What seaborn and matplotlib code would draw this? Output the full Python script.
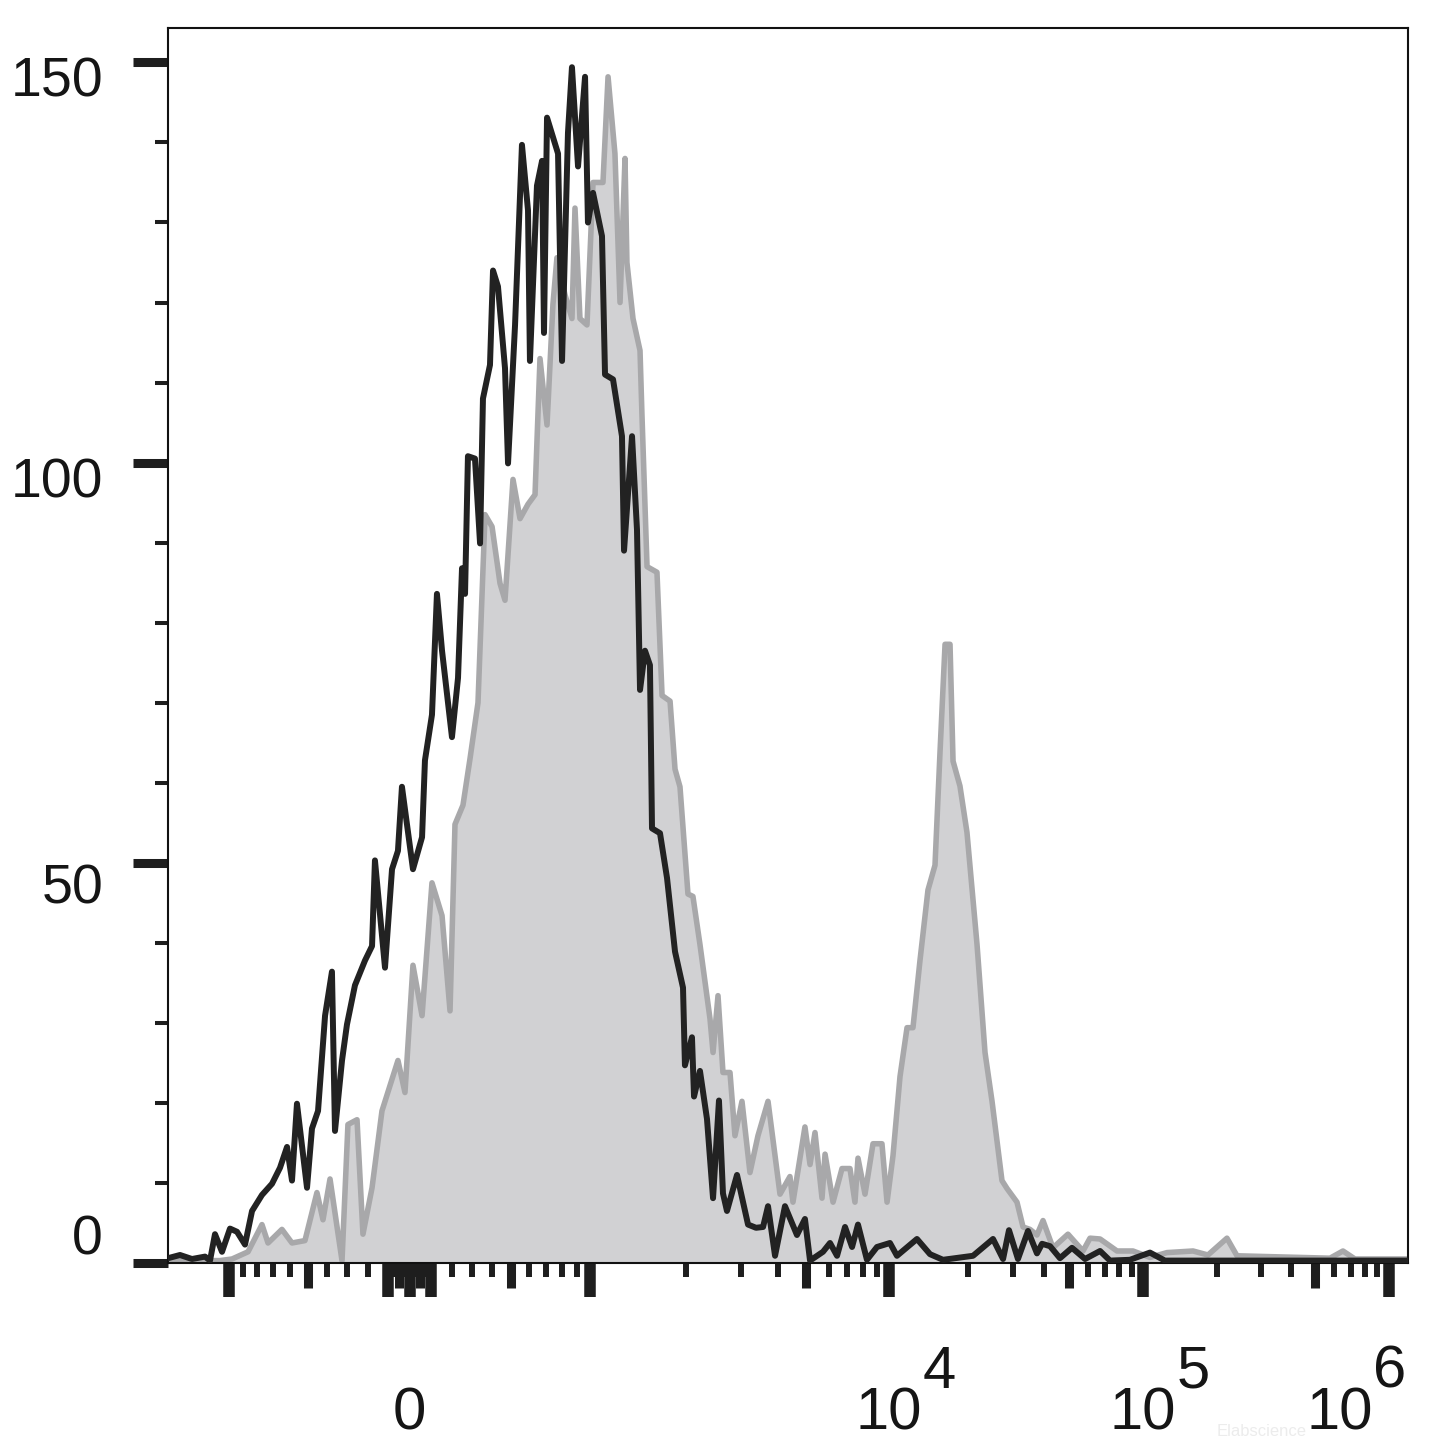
import numpy as np
import matplotlib
matplotlib.use('Agg')
import matplotlib.pyplot as plt
import matplotlib.transforms as mtransforms
import seaborn as sns

# histogram traces; x in display channels (0-1024 across the biexponential axis)
control_ch = [0, 9.9, 19.8, 30.6, 34.7, 38.8, 44.6, 51.2, 57.0, 63.6, 69.4, 77.6, 85.9, 92.5,
              98.3, 102.4, 106.5, 114.8, 118.9, 123.9, 129.7, 135.4, 137.9, 143.7, 147.8, 154.4,
              162.7, 168.5, 170.9, 179.2, 185.0, 189.9, 193.2, 202.3, 209.8, 212.2, 218.0, 222.1,
              226.3, 234.5, 239.5, 242.8, 245.3, 247.7, 253.5, 257.7, 260.1, 265.9, 268.4, 272.5,
              278.3, 280.8, 286.6, 292.3, 297.3, 298.9, 304.7, 308.9, 310.5, 313.0, 322.1, 325.4,
              330.3, 333.6, 338.6, 344.4, 346.8, 351.0, 358.4, 360.9, 367.5, 374.9, 376.6, 383.2,
              387.3, 389.8, 393.9, 398.0, 399.7, 406.3, 412.1, 418.7, 425.3, 426.9, 432.7, 434.4,
              439.3, 445.1, 450.1, 455.0, 458.3, 461.6, 469.9, 479.0, 485.6, 491.4, 495.5, 501.3,
              509.5, 519.4, 526.0, 530.2, 540.9, 546.7, 552.5, 559.1, 564.9, 569.8, 577.2, 585.5,
              596.2, 602.0, 618.5, 629.3, 640.0, 664.8, 681.3, 689.6, 694.5, 701.9, 710.2, 717.6,
              721.8, 728.4, 736.6, 746.5, 757.3, 769.7, 777.9, 794.4, 810.9, 823.3, 1024]
control_count = [0.6, 1.0, 0.5, 0.8, 0.3, 3.6, 1.4, 4.3, 3.9, 2.3, 6.5, 8.5, 9.9, 11.9,
                 14.5, 10.3, 19.9, 9.4, 16.8, 19.0, 30.9, 36.4, 16.5, 25.3, 29.8, 34.7,
                 37.8, 39.6, 50.3, 36.9, 49.2, 51.5, 59.5, 49.2, 53.2, 62.8, 68.5, 83.6,
                 76.5, 65.7, 73.1, 86.8, 83.6, 100.8, 100.5, 89.9, 108.0, 112.2, 124.0, 122.0,
                 111.8, 99.9, 117.2, 139.7, 131.5, 112.7, 134.6, 137.7, 116.2, 143.1, 138.6, 112.7,
                 141.2, 149.4, 137.0, 148.2, 130.0, 133.7, 128.3, 111.0, 110.4, 103.3, 89.0, 103.3,
                 91.6, 71.6, 76.5, 74.7, 54.3, 53.7, 48.1, 38.9, 34.4, 24.7, 28.2, 20.8,
                 24.0, 18.0, 8.1, 20.3, 8.7, 6.5, 11.0, 4.8, 4.4, 4.5, 7.1, 0.9,
                 7.1, 3.5, 5.5, 0.3, 1.4, 2.5, 0.9, 4.5, 2.0, 4.8, 0.4, 2.0,
                 2.5, 0.9, 3.0, 1.1, 0.4, 0.9, 3.0, 0.5, 4.1, 0.5, 4.0, 1.2,
                 2.4, 2.1, 0.6, 1.9, 0.5, 1.5, 0.3, 0.4, 1.3, 0.3, 0.3]

stained_ch = [0, 26.4, 42.9, 52.9, 66.1, 77.6, 82.6, 94.1, 102.4, 113.1, 123.0, 128.0, 133.8,
              143.7, 148.6, 156.1, 161.0, 168.5, 176.7, 189.9, 195.7, 202.3, 209.8, 218.0, 226.3,
              232.9, 237.0, 243.6, 249.4, 256.0, 261.8, 267.6, 274.2, 278.3, 284.9, 290.7, 297.3,
              303.1, 307.2, 313.0, 317.9, 321.2, 327.8, 333.6, 336.1, 340.2, 346.0, 351.0, 359.2,
              363.4, 369.1, 373.3, 377.4, 379.0, 384.0, 389.8, 391.4, 395.6, 403.8, 408.0, 414.6,
              418.7, 422.8, 429.4, 433.5, 439.3, 447.6, 450.1, 454.2, 458.3, 464.1, 468.2, 474.0,
              480.6, 487.2, 495.5, 505.4, 513.6, 516.1, 526.0, 530.2, 534.3, 540.1, 542.6, 549.2,
              556.6, 563.2, 567.3, 569.8, 575.6, 582.2, 589.6, 593.8, 598.7, 604.5, 610.3, 615.2,
              621.0, 627.6, 633.4, 637.5, 641.7, 645.8, 648.3, 654.0, 659.8, 668.1, 674.7, 680.5,
              688.7, 692.9, 701.1, 706.1, 711.8, 717.6, 722.6, 730.8, 743.2, 755.6, 761.4, 769.7,
              783.7, 796.9, 810.9, 825.0, 846.5, 858.8, 874.5, 882.8, 959.6, 970.3, 980.2, 1024]
stained_count = [0.3, 0.3, 0.3, 0.5, 1.4, 4.8, 2.5, 4.2, 2.5, 2.8, 8.8, 5.4, 10.5,
                 0.3, 17.3, 17.9, 3.6, 9.4, 19.0, 25.3, 21.3, 37.2, 30.9, 47.5, 43.4,
                 31.5, 54.8, 57.2, 63.0, 70.0, 93.5, 92.0, 84.9, 82.8, 97.9, 93.0, 94.8,
                 96.0, 113.0, 104.7, 119.8, 125.6, 121.0, 118.0, 131.8, 118.0, 117.2, 135.0, 135.0,
                 148.2, 138.6, 120.0, 138.0, 125.0, 118.0, 114.0, 106.0, 87.0, 86.3, 70.9, 70.2,
                 61.7, 59.5, 46.1, 45.8, 39.8, 30.5, 26.3, 33.4, 23.8, 23.8, 15.9, 20.2,
                 11.3, 15.9, 20.2, 8.6, 10.8, 7.6, 17.0, 12.3, 16.3, 8.1, 13.6, 7.6,
                 11.8, 11.8, 7.6, 13.1, 8.6, 14.9, 14.9, 7.6, 13.4, 23.3, 29.4, 29.4,
                 37.8, 46.6, 49.7, 63.7, 77.3, 77.3, 62.7, 59.6, 53.8, 39.8, 26.3, 20.2,
                 10.3, 9.3, 7.6, 4.5, 4.2, 3.5, 5.3, 1.9, 3.6, 1.5, 3.1, 3.0,
                 1.5, 1.5, 0.7, 1.3, 1.5, 1.0, 3.1, 0.9, 0.6, 1.5, 0.5, 0.5]

y_ticks = [0, 50, 100, 150]
y_minor = [10, 20, 30, 40, 60, 70, 80, 90, 110, 120, 130, 140]
x_major_vals = [-1000, -100, 0, 100, 1000, 1e4, 1e5, 1e6]
x_mid_vals = [-500, -50, 50, 500, 5e3, 5e4, 5e5]
x_minor_vals = ([-k * 100 for k in (9, 8, 7, 6, 4, 3, 2)] + [-k * 10 for k in (9, 8, 7, 6, 4, 3, 2, 1)]
                + [k * 10 for k in (1, 2, 3, 4, 6, 7, 8, 9)] + [k * 100 for k in (2, 3, 4, 6, 7, 8, 9)]
                + [k * 10 ** e for e in (3, 4, 5) for k in (2, 3, 4, 6, 7, 8, 9)])
x_label_vals = [0, 1e4, 1e5, 1e6]
x_label_base = ['0', '10', '10', '10']
x_label_exp = ['', '4', '5', '6']

# biexponential (logicle) display: value -> channel
T, M, W = 1.2e6, 5.08, 0.99
ps = np.linspace(1.001, 30, 20000)
p = np.interp(W, 2 * ps * np.log10(ps) / (ps + 1), ps)


def _s(y):
    z = y - W
    return T * 10 ** (-(M - W)) * (10 ** z - p ** 2 * 10 ** (-z / p) + p ** 2 - 1)


grid = np.linspace(-0.3, M + 0.3, 40001)
vals = np.where(grid >= W, _s(grid), -_s(2 * W - grid))


def to_channel(v):
    return np.interp(v, vals, grid) / M * 1024


sns.set_style('ticks')
plt.rcParams['font.family'] = ['Liberation Sans', 'DejaVu Sans']

fig = plt.figure(figsize=(14.45, 14.55), dpi=100)
ax = fig.add_axes([0.11626, 0.13196, 0.85813, 0.84880])

ax.fill_between(stained_ch, stained_count, 0, color='#d1d1d3', lw=0, zorder=1)
sns.lineplot(x=stained_ch, y=stained_count, color='#a8a8aa', lw=4.0, ax=ax,
             estimator=None, sort=False, zorder=2)
sns.lineplot(x=control_ch, y=control_count, color='#222222', lw=4.3, ax=ax,
             estimator=None, sort=False, zorder=3)

ax.set_xlim(0, 1024)
ax.set_ylim(0, 154.3)
ax.set_xlabel('')
ax.set_ylabel('')

for s in ax.spines.values():
    s.set_visible(True)
    s.set_linewidth(1.5)
    s.set_color('#111111')

tick_col = '#1e1e1e'
ax.set_yticks(y_ticks)
ax.set_yticks(y_minor, minor=True)
ax.tick_params(axis='y', which='major', length=25, width=6.5, color=tick_col, labelleft=False)
ax.tick_params(axis='y', which='minor', length=9.5, width=2.9, color=tick_col)

ax.set_xticks(to_channel(np.array(x_major_vals)))
ax.set_xticks(to_channel(np.array(x_minor_vals)), minor=True)
ax.tick_params(axis='x', which='major', length=24.5, width=8.3, color=tick_col, labelbottom=False)
ax.tick_params(axis='x', which='minor', length=10, width=4.3, color=tick_col)

sec = ax.secondary_xaxis('bottom')
sec.set_xticks(to_channel(np.array(x_mid_vals)))
sec.set_xticklabels([])
sec.tick_params(length=18, width=6.5, color=tick_col)
sec.spines['bottom'].set_visible(False)

# y labels sit a little off their ticks, as in the original export
y_shift = [22, -27, -21, -20]
for v, dy in zip(y_ticks, y_shift):
    tr = mtransforms.offset_copy(ax.get_yaxis_transform(), fig=fig, x=-65, y=dy, units='dots')
    ax.text(0, v, str(v), transform=tr, ha='right', va='center', fontsize=40, color='#151515')

x_shift = [0, 0, 0, -49]
for v, base, ex, dx in zip(x_label_vals, x_label_base, x_label_exp, x_shift):
    c = to_channel(v)
    tr = mtransforms.offset_copy(ax.get_xaxis_transform(), fig=fig, x=dx, y=-167, units='dots')
    ax.text(c, 0, base, transform=tr, ha='center', va='baseline', fontsize=43, color='#151515')
    if ex:
        tr2 = mtransforms.offset_copy(ax.get_xaxis_transform(), fig=fig, x=dx + 33, y=-125, units='dots')
        ax.text(c, 0, ex, transform=tr2, ha='left', va='baseline', fontsize=43, color='#151515')

# faint watermark, kept clear of the decade labels
fig.text(0.8734, 0.016, 'Elabscience', ha='center', va='center', fontsize=12, color='#ececec')

fig.savefig('out.png', dpi=100)
